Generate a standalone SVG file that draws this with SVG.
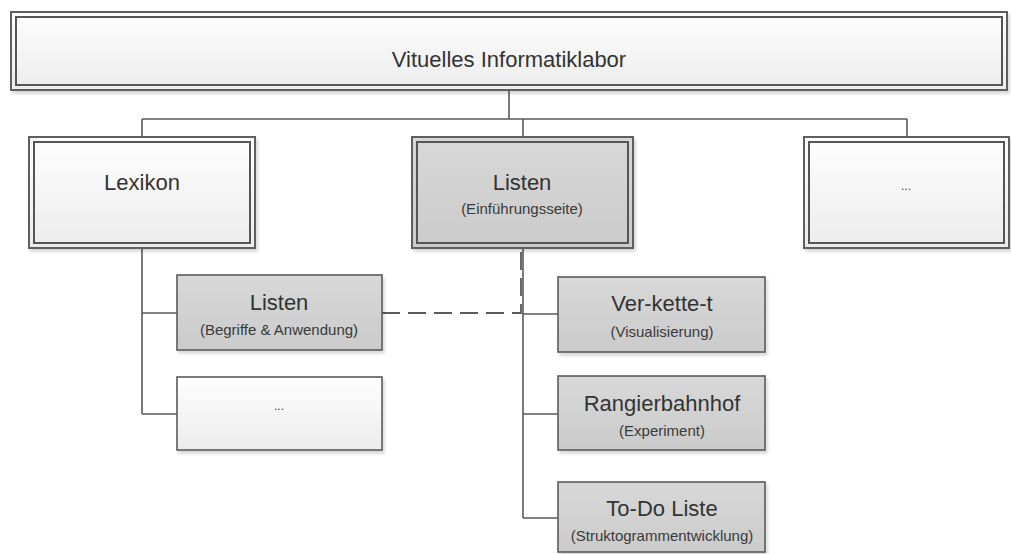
<svg xmlns="http://www.w3.org/2000/svg" width="1011" height="554" viewBox="0 0 1011 554">
  <defs>
    <linearGradient id="gLight" x1="0" y1="0" x2="0" y2="1">
      <stop offset="0" stop-color="#fefefe"/>
      <stop offset="1" stop-color="#ececec"/>
    </linearGradient>
    <linearGradient id="gGray" x1="0" y1="0" x2="0" y2="1">
      <stop offset="0" stop-color="#d8d8d8"/>
      <stop offset="1" stop-color="#cbcbcb"/>
    </linearGradient>
    <filter id="shadow" x="-5%" y="-5%" width="112%" height="120%">
      <feDropShadow dx="2" dy="3" stdDeviation="1.5" flood-color="#000" flood-opacity="0.15"/>
    </filter>
  </defs>
  <style>
    .light { fill: url(#gLight); }
    .gray { fill: url(#gGray); }
    .outer { stroke: #5e5e5e; stroke-width: 2; filter: url(#shadow); }
    .inner { fill: none; stroke: #555; stroke-width: 2; }
    .single { stroke: #5a5a5a; stroke-width: 1.6; filter: url(#shadow); }
    .title { font-family: "Liberation Sans", Arial, sans-serif; font-size: 22px; fill: #333; text-anchor: middle; }
    .sub { font-family: "Liberation Sans", Arial, sans-serif; font-size: 15px; fill: #3a3a3a; text-anchor: middle; }
    .dots { font-family: "Liberation Sans", Arial, sans-serif; font-size: 12px; fill: #444; text-anchor: middle; }
    .conn { fill: none; stroke: #5a5a5a; stroke-width: 1.6; }
    .dash { fill: none; stroke: #5a5a5a; stroke-width: 1.8; stroke-dasharray: 18 8; }
  </style>

  <!-- tree connectors -->
  <g id="connectors">
    <path class="conn" d="M509,90 V119 M142,119 H907 M142,119 V137 M523,119 V137 M907,119 V137"/>
    <path class="conn" d="M142,248 V414 M142,313 H177 M142,414 H177"/>
    <path class="conn" d="M523,248 V518 M523,314 H558 M523,414 H558 M523,518 H558"/>
    <path class="dash" d="M382,313 H521 V249"/>
  </g>

  <g id="root">
    <rect class="light outer" x="11" y="12" width="996" height="78"/>
    <rect class="inner" x="16" y="17" width="986" height="68"/>
    <text class="title" x="509" y="67">Vituelles Informatiklabor</text>
  </g>

  <g id="lexikon">
    <rect class="light outer" x="29" y="137" width="226" height="111"/>
    <rect class="inner" x="34" y="142" width="216" height="101"/>
    <text class="title" x="142" y="190">Lexikon</text>
  </g>

  <g id="listen-intro">
    <rect class="gray outer" x="412" y="137" width="221" height="111"/>
    <rect class="inner" x="417" y="142" width="211" height="101"/>
    <text class="title" x="522" y="190">Listen</text>
    <text class="sub" x="522" y="214">(Einführungsseite)</text>
  </g>

  <g id="more-top">
    <rect class="light outer" x="804" y="137" width="205" height="111"/>
    <rect class="inner" x="809" y="142" width="195" height="101"/>
    <text class="dots" x="906" y="190">...</text>
  </g>

  <g id="listen-begriffe">
    <rect class="gray single" x="177" y="275" width="205" height="75"/>
    <text class="title" x="279" y="310">Listen</text>
    <text class="sub" x="279" y="335">(Begriffe &amp; Anwendung)</text>
  </g>

  <g id="more-lexikon">
    <rect class="light single" x="177" y="377" width="205" height="73"/>
    <text class="dots" x="279" y="410">...</text>
  </g>

  <g id="verkettet">
    <rect class="gray single" x="558" y="277" width="207" height="75"/>
    <text class="title" x="662" y="311">Ver-kette-t</text>
    <text class="sub" x="662" y="337">(Visualisierung)</text>
  </g>

  <g id="rangierbahnhof">
    <rect class="gray single" x="558" y="376" width="207" height="74"/>
    <text class="title" x="662" y="411">Rangierbahnhof</text>
    <text class="sub" x="662" y="436">(Experiment)</text>
  </g>

  <g id="todo">
    <rect class="gray single" x="558" y="482" width="207" height="70"/>
    <text class="title" x="662" y="516">To-Do Liste</text>
    <text class="sub" x="662" y="541">(Struktogrammentwicklung)</text>
  </g>
</svg>
